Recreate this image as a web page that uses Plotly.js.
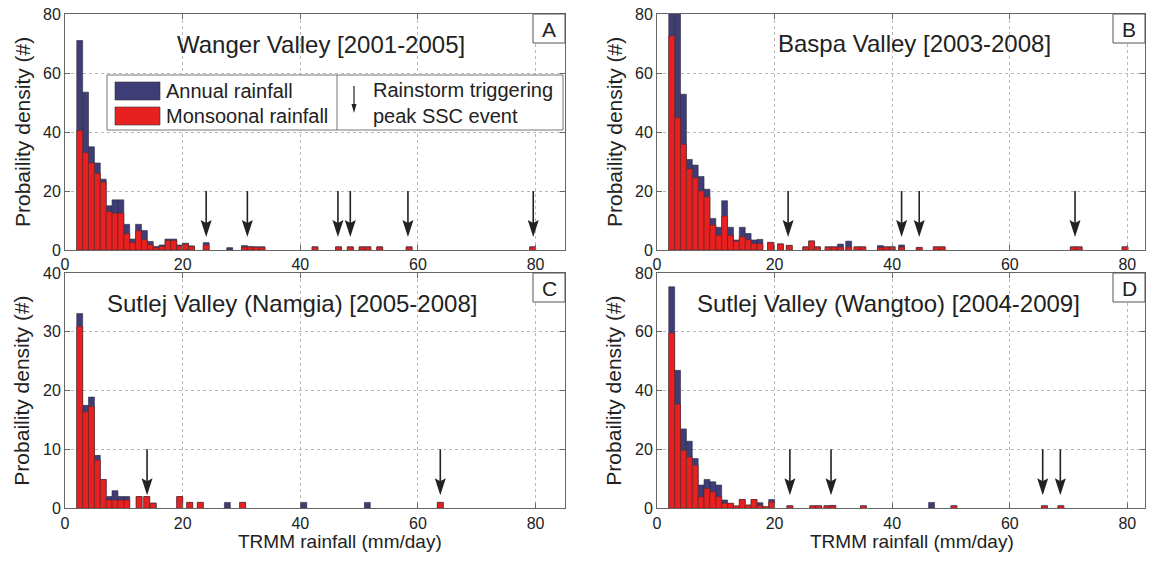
<!DOCTYPE html>
<html><head><meta charset="utf-8">
<script src="https://cdn.plot.ly/plotly-3.0.1.min.js"></script>
<style>html,body{margin:0;padding:0;background:#fff}#chart{width:1157px;height:561px}</style>
</head><body><div id="chart"></div>
<script>
// ---------- DATA ----------
// Panel A: Wanger Valley [2001-2005]
const binsA    = [2.5,3.5,4.5,5.5,6.5,7.5,8.5,9.5,10.5,11.5,12.5,13.5,14.5,15.5,16.5,17.5,18.5,19.5,20.5,21.5,24,28,30.5,31.5,32.5,33.5,42.5,46.5,48.5,50.5,51.5,53.5,58.5,79.5];
const annualA  = [71,53.5,35,29.5,24,15,17,17,8.7,3.7,8.7,6.6,2.9,1.2,1.7,3.7,3.7,1.7,2.3,1.4,2.5,0.8,1.5,1.2,1.1,1.1,1.1,1.1,1.1,1.1,1.1,1.1,1.1,1.1];
const monsoonA = [40.5,33,29.5,26,23,13,12.5,12.5,5.5,2.5,6.5,3.5,1.8,0.8,1.2,3.2,3.2,1.4,2,1.2,1.7,0,1,1,0.9,0.9,1,1,1,1,1,1,1,1];
const arrowsA  = [24,31,46.4,48.5,58.3,79.6];

// Panel B: Baspa Valley [2003-2008]
const binsB    = [2.5,3.5,4.5,5.5,6.5,7.5,8.5,9.5,10.5,11.5,12.5,13.5,14.5,15.5,16.5,17.5,19.3,21,22.5,25.3,26.3,27.3,29.1,30.1,31.2,32.6,34,35,38,39,40,41.6,44.6,47.5,48.5,70.8,71.8,79.6];
const annualB  = [95,95,52.8,30.7,28.8,24.9,20.6,10.7,7.7,16.7,7.7,3.4,7.7,5.6,3.4,3.6,2.6,2.1,1.6,1.1,3.1,1.1,1.1,1.1,2,3,1.1,1.1,1.5,1.1,1.1,1.7,0.9,1.1,1.1,1.1,1.1,1.1];
const monsoonB = [72.6,44.8,35.8,27.5,24.5,20,18,8.5,5,11.5,5,3,4.5,3.5,2.2,2.2,2.5,2,1.5,1,3,1,1,1,1,1,1,1,0.8,1,1,1,0.8,1,1,1,1,1];
const arrowsB  = [22.3,41.6,44.6,71.1];

// Panel C: Sutlej Valley (Namgia) [2005-2008]
const binsC    = [2.5,3.5,4.5,5.5,6.5,7.5,8.5,9.5,10.5,12.6,13.9,15,19.5,21.2,23,27.6,30.2,40.6,51.4,63.8];
const annualC  = [33.1,17.5,18.9,9,4.9,2,3,2,2,2,2,0.9,2,1,1,1,1,1,1,1];
const monsoonC = [30.9,16.4,17.3,8.2,4.9,1.4,1.4,1.4,1.4,2,2,0.85,2,1,1,0,1,0,0,1];
const arrowsC  = [13.95,63.8];

// Panel D: Sutlej Valley (Wangtoo) [2004-2009]
const binsD    = [2.5,3.5,4.5,5.5,6.5,7.5,8.5,9.5,10.5,11.5,12.5,13.5,14.5,15.5,16.5,17.5,18.5,19.5,22.6,26.5,27.5,28.9,29.9,35.1,46.7,50.5,65.9,68.7];
const annualD  = [75.3,46.9,27,22.8,16.9,7.9,9.8,9,7.9,2.8,1.7,0.8,3,1.1,3,1.9,0.5,3,0.9,0.9,0.9,0.9,1,0.9,2,0.9,0.9,0.9];
const monsoonD = [59.6,35.4,19.7,17.4,14.6,3.9,6.7,5.6,3.9,1.7,1.7,0.8,3,1.1,3,1,0.5,2.2,0.8,0.8,0.8,0.8,0.8,0.8,0,0.8,0.8,0.8];
const arrowsD  = [22.6,29.6,65.6,68.6];

const xTicks   = [0,20,40,60,80];
const titles   = ['Wanger Valley [2001-2005]','Baspa Valley [2003-2008]','Sutlej Valley (Namgia) [2005-2008]','Sutlej Valley (Wangtoo) [2004-2009]'];
const letters  = ['A','B','C','D'];
const legendLabels = ['Annual rainfall','Monsoonal rainfall'];
const eventLabel = ['Rainstorm triggering','peak SSC event'];
const yTitle = 'Probaility density (#)';
const xTitle = 'TRMM rainfall (mm/day)';

// ---------- STYLE / LAYOUT ----------
const W = 1157, H = 561;
const px = v => v / W, py = v => 1 - v / H;
const BLUE = '#3e3d78', RED = '#e8201f', INK = '#222';
const FONT = '"Liberation Sans", Arial, Helvetica, sans-serif';

const panels = [
  {n:'',  bins:binsA, ann:annualA, mon:monsoonA, arr:arrowsA, xPx:[65,565],  yPx:[14,250],    xr:[0,85], yr:[0,80], dt:20, tpos:[321,45],  lbox:[533,14]},
  {n:'2', bins:binsB, ann:annualB, mon:monsoonB, arr:arrowsB, xPx:[657,1145], yPx:[14,250],   xr:[0,83], yr:[0,80], dt:20, tpos:[914,44],  lbox:[1113,14]},
  {n:'3', bins:binsC, ann:annualC, mon:monsoonC, arr:arrowsC, xPx:[65,565],  yPx:[273,508.3], xr:[0,85], yr:[0,40], dt:10, tpos:[292,303], lbox:[533,273]},
  {n:'4', bins:binsD, ann:annualD, mon:monsoonD, arr:arrowsD, xPx:[657,1145], yPx:[273,508.3],xr:[0,83], yr:[0,80], dt:20, tpos:[888,303], lbox:[1113,273]}
];

const traces = [], shapes = [], annotations = [];
const layout = {
  width: W, height: H, margin:{l:0,r:0,t:0,b:0},
  paper_bgcolor:'#fff', plot_bgcolor:'#fff',
  barmode:'overlay', showlegend:false,
  font:{family:FONT, color:INK, size:16}
};

const axisCommon = {
  showline:true, linecolor:'#666', linewidth:1, mirror:'ticks',
  ticks:'inside', ticklen:5, tickcolor:'#666',
  showgrid:true, gridcolor:'#b8b8b8', griddash:'dot', gridwidth:1,
  zeroline:false, tickfont:{family:FONT, size:16, color:INK}, fixedrange:true
};

panels.forEach((p, i) => {
  const xa = 'x' + p.n, ya = 'y' + p.n;
  traces.push({type:'bar', x:p.bins, y:p.ann, width:1, xaxis:xa, yaxis:ya,
    marker:{color:BLUE, line:{color:'#2a2a3a', width:0.6}}, hoverinfo:'skip'});
  traces.push({type:'bar', x:p.bins, y:p.mon, width:1, xaxis:xa, yaxis:ya,
    marker:{color:RED, line:{color:'#5a2a2a', width:0.6}}, hoverinfo:'skip'});

  layout['xaxis' + p.n] = Object.assign({}, axisCommon, {
    domain:[px(p.xPx[0]), px(p.xPx[1])], range:p.xr, anchor:ya,
    tickmode:'array', tickvals:xTicks, ticktext:xTicks.map(String)
  });
  layout['yaxis' + p.n] = Object.assign({}, axisCommon, {
    domain:[py(p.yPx[1]), py(p.yPx[0])], range:p.yr, anchor:xa,
    tickmode:'linear', tick0:0, dtick:p.dt
  });

  // arrows (rainstorm events), sized in pixels and converted to data units
  const xs = (p.xPx[1] - p.xPx[0]) / (p.xr[1] - p.xr[0]);
  const ys = (p.yPx[1] - p.yPx[0]) / (p.yr[1] - p.yr[0]);
  const tail = 59, tip = 13, headLen = 17, halfW = 5.5, notch = 3;
  p.arr.forEach(x => {
    shapes.push({type:'line', xref:xa, yref:ya, x0:x, x1:x, y0:tail/ys, y1:(tip+headLen-notch)/ys,
      line:{color:INK, width:1.6}});
    shapes.push({type:'path', xref:xa, yref:ya,
      path:`M ${x-halfW/xs},${(tip+headLen)/ys} L ${x},${tip/ys} L ${x+halfW/xs},${(tip+headLen)/ys} L ${x},${(tip+headLen-notch)/ys} Z`,
      fillcolor:INK, line:{width:0}});
  });

  // panel title
  annotations.push({xref:'paper', yref:'paper', x:px(p.tpos[0]), y:py(p.tpos[1]), text:titles[i],
    showarrow:false, xanchor:'center', yanchor:'middle', font:{size:24, family:FONT, color:INK}});
  // letter box
  shapes.push({type:'rect', xref:'paper', yref:'paper', x0:px(p.lbox[0]), x1:px(p.lbox[0]+32),
    y0:py(p.lbox[1]+29), y1:py(p.lbox[1]), line:{color:'#555', width:1}, fillcolor:'#fff'});
  annotations.push({xref:'paper', yref:'paper', x:px(p.lbox[0]+16), y:py(p.lbox[1]+15), text:letters[i],
    showarrow:false, xanchor:'center', yanchor:'middle', font:{size:21, family:FONT, color:INK}});
  // y title
  annotations.push({xref:'paper', yref:'paper', x:px(p.xPx[0] - 43), y:py((p.yPx[0]+p.yPx[1])/2), text:yTitle,
    showarrow:false, textangle:-90, xanchor:'center', yanchor:'middle', font:{size:21, family:FONT, color:INK}});
});

// x titles (bottom panels)
[[340,541],[912,541]].forEach(pos => annotations.push({xref:'paper', yref:'paper', x:px(pos[0]), y:py(pos[1]),
  text:xTitle, showarrow:false, xanchor:'center', yanchor:'middle', font:{size:19, family:FONT, color:INK}}));

// legend inside panel A
shapes.push({type:'rect', xref:'paper', yref:'paper', x0:px(107), x1:px(563), y0:py(130), y1:py(75),
  line:{color:'#777', width:1}, fillcolor:'#fff'});
shapes.push({type:'line', xref:'paper', yref:'paper', x0:px(337), x1:px(337), y0:py(130), y1:py(75),
  line:{color:'#777', width:1}});
shapes.push({type:'rect', xref:'paper', yref:'paper', x0:px(115), x1:px(160), y0:py(100), y1:py(82),
  line:{color:'#333', width:0.6}, fillcolor:BLUE});
shapes.push({type:'rect', xref:'paper', yref:'paper', x0:px(115), x1:px(160), y0:py(125), y1:py(107),
  line:{color:'#333', width:0.6}, fillcolor:RED});
annotations.push({xref:'paper', yref:'paper', x:px(164), y:py(91), text:legendLabels[0], showarrow:false,
  xanchor:'left', yanchor:'middle', font:{size:20, family:FONT, color:INK}});
annotations.push({xref:'paper', yref:'paper', x:px(164), y:py(116), text:legendLabels[1], showarrow:false,
  xanchor:'left', yanchor:'middle', font:{size:20, family:FONT, color:INK}});
annotations.push({xref:'paper', yref:'paper', x:px(371), y:py(90), text:eventLabel[0], showarrow:false,
  xanchor:'left', yanchor:'middle', font:{size:20, family:FONT, color:INK}});
annotations.push({xref:'paper', yref:'paper', x:px(371), y:py(116), text:eventLabel[1], showarrow:false,
  xanchor:'left', yanchor:'middle', font:{size:20, family:FONT, color:INK}});
shapes.push({type:'line', xref:'paper', yref:'paper', x0:px(354), x1:px(354), y0:py(86), y1:py(106),
  line:{color:INK, width:1.2}});
shapes.push({type:'path', xref:'paper', yref:'paper',
  path:`M ${px(351.5)},${py(104)} L ${px(354)},${py(113)} L ${px(356.5)},${py(104)} Z`, fillcolor:INK, line:{width:0}});

layout.shapes = shapes;
layout.annotations = annotations;
Plotly.newPlot('chart', traces, layout, {staticPlot:true, displayModeBar:false});
</script></body></html>
